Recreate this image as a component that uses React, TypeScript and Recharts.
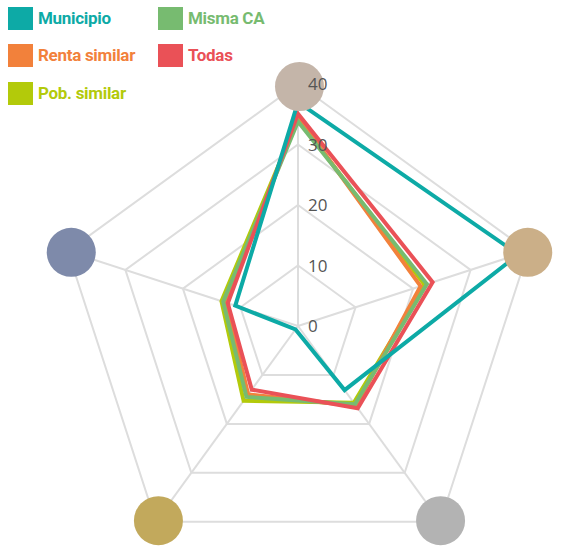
import React from 'react';
import { RadarChart, Radar, PolarGrid, PolarAngleAxis, PolarRadiusAxis } from 'recharts';

const categories = ['Eje 1', 'Eje 2', 'Eje 3', 'Eje 4', 'Eje 5'];
const categoryColors = ['#C4B5A9', '#CBAF88', '#B3B3B3', '#C2A95C', '#7E8AAA'];

const municipio = [37, 38.3, 13.1, 0.7, 10.9];
const mismaCA = [33.8, 22.4, 16, 14.5, 13];
const rentaSimilar = [34.6, 21.3, 16.3, 14, 12.5];
const pobSimilar = [34.2, 22, 15.7, 15.3, 13.3];
const todas = [35.1, 23.4, 16.8, 13, 12.2];

const radiusTicks = [0, 10, 20, 30, 40];

const seriesColors: Record<string, string> = {
  'Municipio': '#0DAAA6',
  'Misma CA': '#77BB70',
  'Renta similar': '#F2813B',
  'Todas': '#EA5157',
  'Pob. similar': '#B3CA0A',
};

const data = categories.map((c, i) => ({
  cat: c,
  municipio: municipio[i],
  mismaCA: mismaCA[i],
  rentaSimilar: rentaSimilar[i],
  pobSimilar: pobSimilar[i],
  todas: todas[i],
}));

const AngleTick = (props: any) => {
  const { x, y, payload, cx, cy } = props;
  const idx = categories.indexOf(payload.value);
  const ccx = cx ?? 298;
  const ccy = cy ?? 326;
  const dx = x - ccx;
  const dy = y - ccy;
  const d = Math.sqrt(dx * dx + dy * dy) || 1;
  const k = 240 / d;
  return <circle cx={ccx + dx * k + 1.5} cy={ccy + dy * k + 0.5} r={24.5} fill={categoryColors[idx]} />;
};

const RadiusTick = (props: any) => {
  const { x, y, payload } = props;
  return (
    <text x={x + 10} y={y} dy="0.36em" textAnchor="start" fill="#555" fontSize={17} fontFamily="'Open Sans', sans-serif">
      {payload.value}
    </text>
  );
};

const legendPos = [
  { name: 'Municipio', x: 8, y: 7 },
  { name: 'Misma CA', x: 158, y: 7 },
  { name: 'Renta similar', x: 8, y: 44 },
  { name: 'Todas', x: 158, y: 44 },
  { name: 'Pob. similar', x: 8, y: 82 },
];

export default function App() {
  return (
    <div style={{ position: 'absolute', left: 0, top: 0, width: 573, height: 549, background: '#fff' }}>
      <RadarChart
        width={573}
        height={549}
        data={data}
        cx={298}
        cy={326}
        outerRadius={242}
        margin={{ top: 0, right: 0, bottom: 0, left: 0 }}
      >
        <PolarAngleAxis dataKey="cat" tick={<AngleTick cx={298} cy={326} />} tickLine={false} axisLine={false} />
        <PolarGrid stroke="#dddddd" strokeWidth={2} gridType="polygon" />
        <PolarRadiusAxis
          angle={90}
          domain={[0, 40]}
          ticks={radiusTicks}
          tickCount={5}
          axisLine={false}
          tickLine={false}
          tick={<RadiusTick />}
        />
        <Radar dataKey="pobSimilar" stroke={seriesColors['Pob. similar']} strokeWidth={4} fill="none" fillOpacity={0} isAnimationActive={false} />
        <Radar dataKey="rentaSimilar" stroke={seriesColors['Renta similar']} strokeWidth={4} fill="none" fillOpacity={0} isAnimationActive={false} />
        <Radar dataKey="mismaCA" stroke={seriesColors['Misma CA']} strokeWidth={4} fill="none" fillOpacity={0} isAnimationActive={false} />
        <Radar dataKey="todas" stroke={seriesColors['Todas']} strokeWidth={4} fill="none" fillOpacity={0} isAnimationActive={false} />
        <Radar dataKey="municipio" stroke={seriesColors['Municipio']} strokeWidth={4} fill="none" fillOpacity={0} isAnimationActive={false} />
      </RadarChart>
      {legendPos.map((l) => (
        <div key={l.name} style={{ position: 'absolute', left: l.x, top: l.y, height: 23, display: 'flex', alignItems: 'center' }}>
          <div style={{ width: 25, height: 23, background: seriesColors[l.name] }} />
          <span
            style={{
              marginLeft: 5,
              color: seriesColors[l.name],
              fontFamily: "'Roboto', sans-serif",
              fontWeight: 700,
              fontSize: 17,
              lineHeight: '23px',
              letterSpacing: -0.3,
            }}
          >
            {l.name}
          </span>
        </div>
      ))}
    </div>
  );
}
